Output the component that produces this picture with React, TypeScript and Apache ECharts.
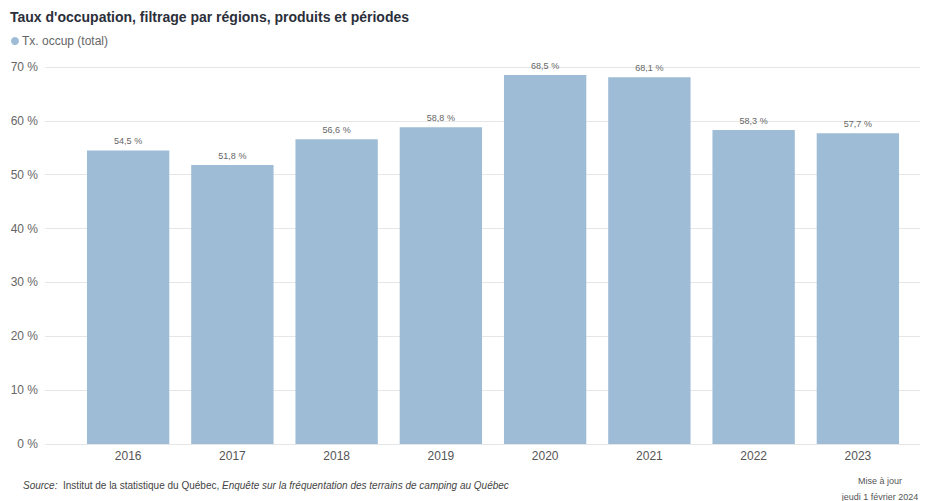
import React, { useEffect, useRef } from "react";
import * as echarts from "echarts";

const categories = ["2016", "2017", "2018", "2019", "2020", "2021", "2022", "2023"];
const values = [54.5, 51.8, 56.6, 58.8, 68.5, 68.1, 58.3, 57.7];
const yTicks = [0, 10, 20, 30, 40, 50, 60, 70];
const seriesName = "Tx. occup (total)";
const titleText = "Taux d'occupation, filtrage par régions, produits et périodes";

const FONT = "'Liberation Sans', Arial, sans-serif";

export default function App() {
  const ref = useRef<HTMLDivElement>(null);
  useEffect(() => {
    if (!ref.current) return;
    const chart = echarts.init(ref.current, undefined, { renderer: "svg" });
    const fmt = (v: number) => v.toFixed(1).replace(".", ",") + " %";
    chart.setOption({
      animation: false,
      textStyle: { fontFamily: FONT },
      title: {
        text: titleText,
        left: 5,
        top: 5,
        textStyle: { fontSize: 14, fontWeight: "bold", color: "#2b2f3a", fontFamily: FONT },
      },
      legend: {
        left: 6,
        top: 30,
        icon: "circle",
        itemWidth: 8,
        itemHeight: 8,
        itemGap: 4,
        textStyle: { fontSize: 12, color: "#666666", fontFamily: FONT, padding: [0, 0, 0, -2] },
        data: [seriesName],
      },
      grid: [
        { left: 45, right: 10, top: 67, bottom: 57 },
        { left: 76, right: 20, top: 67, bottom: 57 },
      ],
      xAxis: [
        { type: "category", gridIndex: 0, data: categories, show: false },
        {
          type: "category",
          gridIndex: 1,
          data: categories,
          axisLine: { show: false },
          axisTick: { show: false },
          axisLabel: { fontSize: 12, color: "#555555", margin: 6, fontFamily: FONT },
        },
      ],
      yAxis: [
        {
          type: "value",
          gridIndex: 0,
          min: 0,
          max: 70,
          interval: 10,
          axisLine: { show: false },
          axisTick: { show: false },
          axisLabel: {
            fontSize: 12,
            color: "#666666",
            margin: 7,
            fontFamily: FONT,
            formatter: (v: number) => (yTicks.includes(v) ? v + " %" : ""),
          },
          splitLine: { lineStyle: { color: "#e6e6e6", width: 1 } },
        },
        { type: "value", gridIndex: 1, min: 0, max: 70, interval: 10, show: false },
      ],
      series: [
        {
          name: seriesName,
          type: "bar",
          xAxisIndex: 1,
          yAxisIndex: 1,
          data: values,
          barWidth: "79%",
          itemStyle: { color: "#9ebcd6" },
          label: {
            show: true,
            position: "top",
            distance: 5,
            fontSize: 9,
            color: "#666666",
            fontFamily: FONT,
            formatter: (p: any) => fmt(p.value),
          },
        },
      ],
      graphic: [
        {
          type: "text",
          left: 23,
          top: 480,
          style: {
            text: "{i|Source:}  Institut de la statistique du Québec, {i|Enquête sur la fréquentation des terrains de camping au Québec}",
            fontSize: 10,
            fill: "#444444",
            fontFamily: FONT,
            rich: { i: { fontStyle: "italic", fontSize: 10, fill: "#444444", fontFamily: FONT } },
          },
        },
        {
          type: "text",
          x: 880,
          y: 476,
          style: {
            text: "Mise à jour",
            fontSize: 9,
            fill: "#555555",
            align: "center",
            fontFamily: FONT,
          },
        },
        {
          type: "text",
          x: 880,
          y: 492,
          style: {
            text: "jeudi 1 février 2024",
            fontSize: 9,
            fill: "#555555",
            align: "center",
            fontFamily: FONT,
          },
        },
      ],
    });
    return () => chart.dispose();
  }, []);
  return <div ref={ref} style={{ width: 930, height: 501, position: "absolute", left: 0, top: 0 }} />;
}
